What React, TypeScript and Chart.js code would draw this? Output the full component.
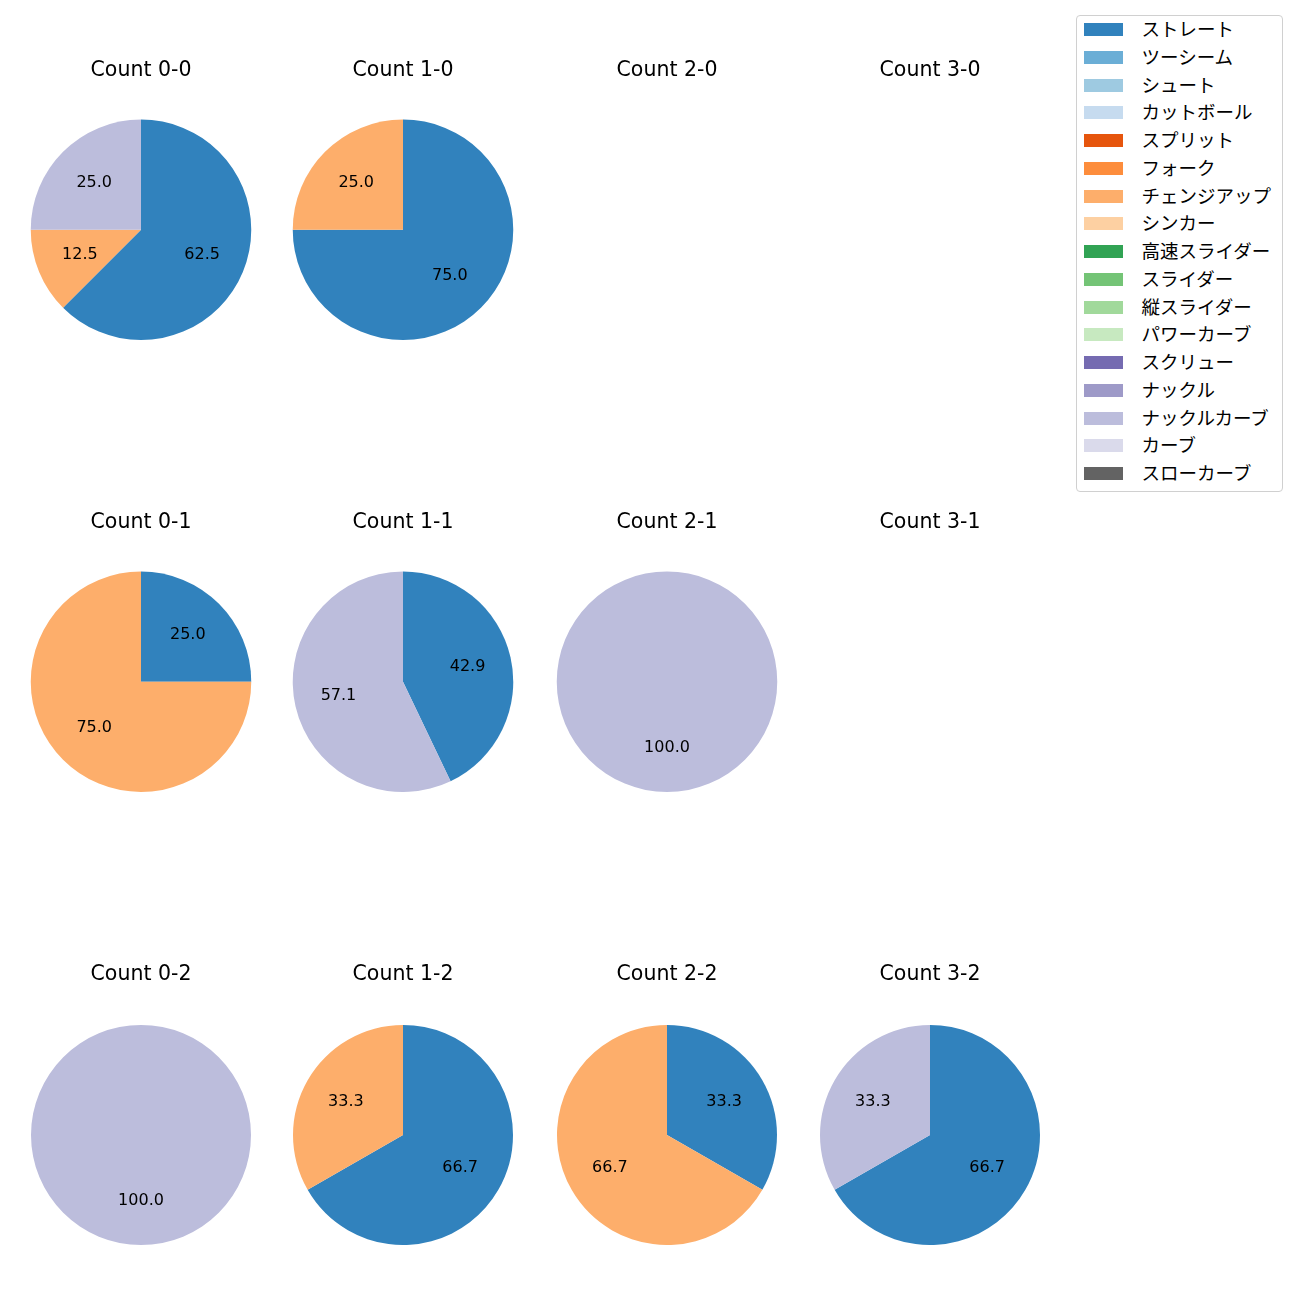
import React, { useEffect, useRef } from "react";
import Chart from "chart.js/auto";

const pitchTypes = [
  "ストレート", "ツーシーム", "シュート", "カットボール", "スプリット", "フォーク",
  "チェンジアップ", "シンカー", "高速スライダー", "スライダー", "縦スライダー",
  "パワーカーブ", "スクリュー", "ナックル", "ナックルカーブ", "カーブ", "スローカーブ",
];
const pitchColors = [
  "#3182bd", "#6baed6", "#9ecae1", "#c6dbef", "#e6550d", "#fd8d3c",
  "#fdae6b", "#fdd0a2", "#31a354", "#74c476", "#a1d99b",
  "#c7e9c0", "#756bb1", "#9e9ac8", "#bcbddc", "#dadaeb", "#636363",
];

const countTitles = [
  ["Count 0-0", "Count 1-0", "Count 2-0", "Count 3-0"],
  ["Count 0-1", "Count 1-1", "Count 2-1", "Count 3-1"],
  ["Count 0-2", "Count 1-2", "Count 2-2", "Count 3-2"],
];

const count00Types = ["ストレート", "チェンジアップ", "ナックルカーブ"];
const count00Values = [62.5, 12.5, 25.0];
const count10Types = ["ストレート", "チェンジアップ"];
const count10Values = [75.0, 25.0];
const count20Types: string[] = [];
const count20Values: number[] = [];
const count30Types: string[] = [];
const count30Values: number[] = [];
const count01Types = ["ストレート", "チェンジアップ"];
const count01Values = [25.0, 75.0];
const count11Types = ["ストレート", "ナックルカーブ"];
const count11Values = [42.9, 57.1];
const count21Types = ["ナックルカーブ"];
const count21Values = [100.0];
const count31Types: string[] = [];
const count31Values: number[] = [];
const count02Types = ["ナックルカーブ"];
const count02Values = [100.0];
const count12Types = ["ストレート", "チェンジアップ"];
const count12Values = [66.7, 33.3];
const count22Types = ["ストレート", "チェンジアップ"];
const count22Values = [33.3, 66.7];
const count32Types = ["ストレート", "ナックルカーブ"];
const count32Values = [66.7, 33.3];

const gridTypes = [
  [count00Types, count10Types, count20Types, count30Types],
  [count01Types, count11Types, count21Types, count31Types],
  [count02Types, count12Types, count22Types, count32Types],
];
const gridValues = [
  [count00Values, count10Values, count20Values, count30Values],
  [count01Values, count11Values, count21Values, count31Values],
  [count02Values, count12Values, count22Values, count32Values],
];

const LATIN_FONT = "'DejaVu Sans', 'Noto Sans CJK JP', sans-serif";
const CJK_FONT = "'Noto Sans CJK JP', 'DejaVu Sans', sans-serif";
const colX = [140.5, 403, 667, 930];
const rowY = [229, 681, 1135];
const titleY = [70.5, 522.5, 975];
const R = 110;
const TITLE_SIZE = 20.5;
const TITLE_LH = 22;
const LABEL_SIZE = 16;

const pctLabels = {
  id: "pctLabels",
  afterDatasetsDraw(chart: any) {
    const ctx = chart.ctx;
    const meta = chart.getDatasetMeta(0);
    const data = chart.data.datasets[0].data as number[];
    const total = data.reduce((a, b) => a + b, 0);
    if (!total) return;
    ctx.save();
    ctx.font = `${LABEL_SIZE}px ${LATIN_FONT}`;
    ctx.fillStyle = "#000";
    ctx.textAlign = "center";
    ctx.textBaseline = "alphabetic";
    meta.data.forEach((arc: any, i: number) => {
      if (!data[i]) return;
      const p = arc.getProps(["x", "y", "startAngle", "endAngle", "outerRadius"], true);
      const mid = (p.startAngle + p.endAngle) / 2;
      const rr = p.outerRadius * 0.6;
      const txt = ((data[i] / total) * 100).toFixed(1);
      const cx = p.x + rr * Math.cos(mid);
      const cy = p.y + rr * Math.sin(mid) - 2;
      ctx.fillText(txt, cx, cy + 0.729 * LABEL_SIZE / 2);
    });
    ctx.restore();
  },
};

function PieCell({ row, col }: { row: number; col: number }) {
  const ref = useRef<HTMLCanvasElement | null>(null);
  const width = 240;
  const padBottom = rowY[row] - R - titleY[row] - TITLE_LH / 2;
  const height = Math.round(TITLE_LH + padBottom + 2 * R);
  const top = titleY[row] - TITLE_LH / 2;
  const left = colX[col] - width / 2;
  useEffect(() => {
    if (!ref.current) return;
    const types = gridTypes[row][col];
    const values = gridValues[row][col];
    const chart = new Chart(ref.current, {
      type: "pie",
      data: {
        labels: types,
        datasets: [
          {
            data: values,
            backgroundColor: types.map((t) => pitchColors[pitchTypes.indexOf(t)]),
            borderWidth: 0,
          },
        ],
      },
      options: {
        responsive: false,
        maintainAspectRatio: false,
        animation: false,
        devicePixelRatio: 1,
        layout: { padding: 0 },
        plugins: {
          legend: { display: false },
          tooltip: { enabled: false },
          title: {
            display: true,
            text: countTitles[row][col],
            color: "#000",
            font: { family: LATIN_FONT, size: TITLE_SIZE, weight: "normal", lineHeight: TITLE_LH / TITLE_SIZE },
            padding: { top: 0, bottom: padBottom },
          },
        },
      },
      plugins: [pctLabels],
    });
    return () => chart.destroy();
  }, [row, col]);
  return (
    <canvas
      ref={ref}
      width={width}
      height={height}
      style={{ position: "absolute", left, top, width, height }}
    />
  );
}

function Legend() {
  return (
    <div
      style={{
        position: "absolute",
        left: 1076,
        top: 15,
        width: 205,
        height: 475,
        border: "1px solid #d0d0d0",
        borderRadius: 4,
        background: "rgba(255,255,255,0.8)",
        fontFamily: CJK_FONT,
        fontSize: 18.5,
        color: "#000",
      }}
    >
      {pitchTypes.map((t, i) => (
        <div key={t}>
          <div
            style={{
              position: "absolute",
              left: 7,
              top: 14 + 27.75 * i - 6.5 - 0.5,
              width: 39,
              height: 13,
              background: pitchColors[i],
            }}
          />
          <div
            style={{
              position: "absolute",
              left: 64.5,
              top: 14 + 27.75 * i - 14,
              height: 24,
              lineHeight: "24px",
              whiteSpace: "nowrap",
            }}
          >
            {t}
          </div>
        </div>
      ))}
    </div>
  );
}

export default function App() {
  const cells: React.ReactNode[] = [];
  for (let r = 0; r < 3; r++) {
    for (let c = 0; c < 4; c++) {
      cells.push(<PieCell key={`${r}-${c}`} row={r} col={c} />);
    }
  }
  return (
    <div
      style={{
        position: "absolute",
        left: 0,
        top: 0,
        width: 1300,
        height: 1300,
        background: "#fff",
        overflow: "hidden",
      }}
    >
      {cells}
      <Legend />
    </div>
  );
}
